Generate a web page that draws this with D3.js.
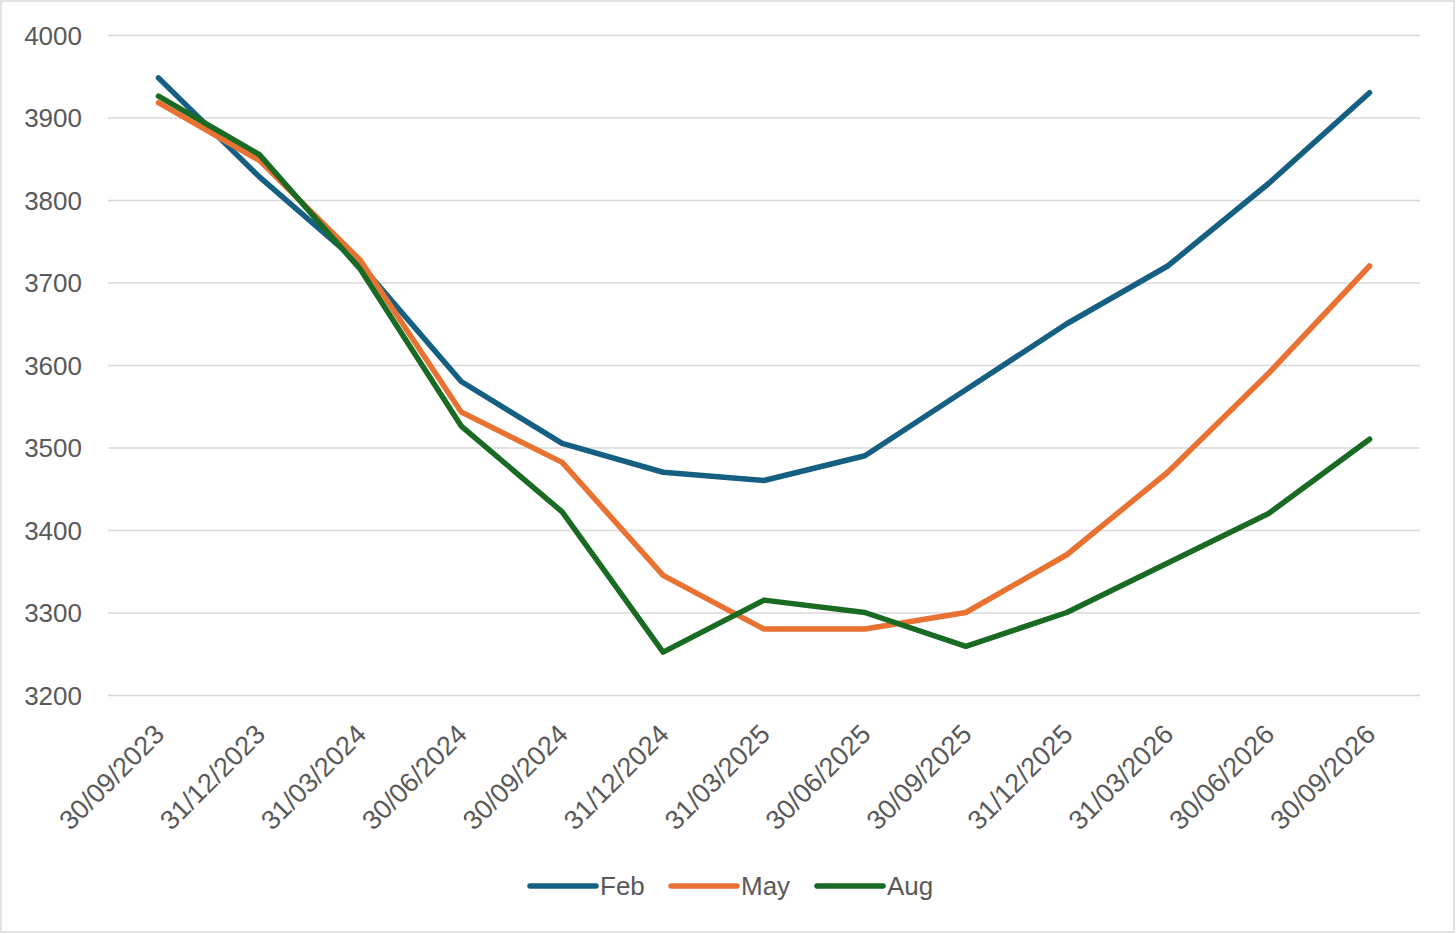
<!DOCTYPE html>
<html><head><meta charset="utf-8">
<script src="https://cdn.jsdelivr.net/npm/d3@7"></script>
<style>body{margin:0;background:#fff;} text{font-family:"Liberation Sans",Arial,sans-serif;}</style>
</head><body>
<svg id="c" width="1456" height="934"></svg>
<script>
const categories = ["30/09/2023","31/12/2023","31/03/2024","30/06/2024","30/09/2024","31/12/2024","31/03/2025","30/06/2025","30/09/2025","31/12/2025","31/03/2026","30/06/2026","30/09/2026"];
const feb = [3948,3828,3722,3580,3505,3470,3460,3490,3570,3650,3720,3820,3930];
const may = [3918,3848,3727,3543,3482,3345,3280,3280,3300,3370,3470,3590,3720];
const aug = [3926,3855,3716,3526,3422,3252,3315,3300,3259,3300,3360,3420,3510];
const seriesNames = ["Feb","May","Aug"];
const yTicks = [3200,3300,3400,3500,3600,3700,3800,3900,4000];
const colors = ["#156082","#E97132","#196B24"];
const series = [feb, may, aug];

(function(){
const svg = d3.select("#c");
svg.append("rect").attr("x",1).attr("y",1).attr("width",1453).attr("height",931)
  .attr("fill","#fff").attr("stroke","#d9d9d9").attr("stroke-width",1.5);

const pL=108, pR=1420, pT=35, pB=695;
const step=(pR-pL)/categories.length;
const x = d3.scalePoint().domain(categories).range([pL+step/2, pR-step/2]);
const y = d3.scaleLinear().domain([3200,4000]).range([pB, pT]);

const yAxis = svg.append("g").attr("transform",`translate(${pL},0)`)
  .call(d3.axisLeft(y).tickValues(yTicks).tickFormat(d3.format("d")).tickSize(-(pR-pL)).tickPadding(26));
yAxis.select(".domain").remove();
yAxis.selectAll("line").attr("stroke","#d9d9d9").attr("stroke-width",1.5);
yAxis.selectAll("text").attr("fill","#595959").style("font-size","26px").attr("dy","0.36em");

const xAxis = svg.append("g").attr("transform",`translate(0,${pB})`)
  .call(d3.axisBottom(x).tickSize(0).tickPadding(0));
xAxis.select(".domain").remove();
xAxis.selectAll("text").attr("fill","#595959").style("font-size","27px")
  .attr("text-anchor","end").attr("dy","0").attr("y",0)
  .attr("transform","translate(7,41) rotate(-45)");

const line = d3.line().x((d,i)=>x(categories[i])).y(d=>y(d));
series.forEach((s,k)=>{
  svg.append("path").datum(s).attr("d",line).attr("fill","none")
    .attr("stroke",colors[k]).attr("stroke-width",5.5)
    .attr("stroke-linecap","round").attr("stroke-linejoin","round");
});

const legX=[530,671,817];
const lg = svg.append("g");
seriesNames.forEach((n,k)=>{
  lg.append("line").attr("x1",legX[k]).attr("x2",legX[k]+66).attr("y1",886).attr("y2",886)
    .attr("stroke",colors[k]).attr("stroke-width",5.5).attr("stroke-linecap","round");
  lg.append("text").attr("x",legX[k]+70).attr("y",895).text(n)
    .attr("fill","#595959").style("font-size","26px");
});
})();
</script>
</body></html>
